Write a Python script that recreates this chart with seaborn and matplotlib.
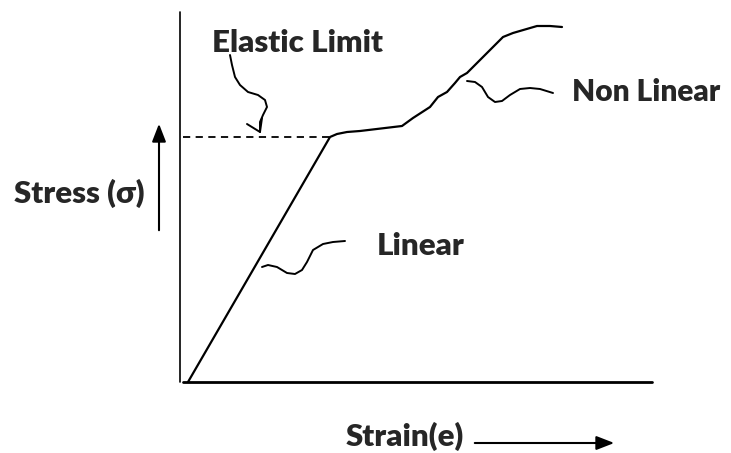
import matplotlib
matplotlib.use("Agg")
import matplotlib.pyplot as plt
import seaborn as sns
import pandas as pd

sns.set_theme(style="white")
plt.rcParams['font.family'] = ['Lato', 'DejaVu Sans']

# Stress-strain curve (schematic units: strain to the right, stress upward)
strain = [8, 150, 157, 167, 180, 222, 233, 250, 258, 267, 275, 280, 287, 307, 323, 333, 357, 370, 382]
stress = [0, 245, 248, 250, 251, 256, 264, 275, 285, 290, 299, 305, 309, 329, 345, 349, 356, 356, 355]

elastic_limit = 245
elastic_end = 150

# hand-drawn pointer squiggles
el_sq_x = [50, 52, 55, 60, 68, 78, 85, 87, 83, 80, 80]
el_sq_y = [327, 317, 305, 297, 290, 287, 282, 275, 267, 260, 250]
el_head_x = [67, 80, 82]
el_head_y = [258, 250, 264]

nl_sq_x = [287, 295, 302, 308, 315, 322, 330, 340, 350, 360, 373]
nl_sq_y = [301, 300, 295, 285, 280, 281, 287, 293, 294, 293, 289]

lin_sq_x = [82, 88, 97, 107, 115, 122, 127, 133, 143, 153, 165]
lin_sq_y = [115, 117, 115, 109, 108, 112, 120, 132, 138, 140, 141]

df = pd.DataFrame({"strain": strain, "stress": stress})

fig = plt.figure(figsize=(7.31, 4.53), dpi=100)
ax = fig.add_axes([0, 0, 1, 1])
ax.set_xlim(-180, 551)
ax.set_ylim(-71, 382)
ax.axis("off")

sns.lineplot(data=df, x="strain", y="stress", sort=False, color="black", lw=1.6, ax=ax)

# axes lines
ax.plot([0, 0], [0, 370], color="black", lw=1.2)
ax.plot([3, 472], [0, 0], color="black", lw=2.0)

# dashed elastic limit
ax.plot([3, elastic_end], [elastic_limit, elastic_limit], color="black", lw=1.3, ls=(0, (4, 3)))

# squiggles
kw = dict(color="black", lw=1.4, solid_capstyle="round", solid_joinstyle="round")
ax.plot(el_sq_x, el_sq_y, **kw)
ax.plot(el_head_x, el_head_y, **kw)
ax.plot(nl_sq_x, nl_sq_y, **kw)
ax.plot(lin_sq_x, lin_sq_y, **kw)

fs = 22.5
fw = "heavy"
ax.text(117, 339, "Elastic Limit", fontsize=fs, fontweight=fw, ha="center", va="center")
ax.text(392, 290, "Non Linear", fontsize=21.5, fontweight=fw, ha="left", va="center")
ax.text(241, 136, "Linear", fontsize=fs, fontweight=fw, ha="center", va="center")
ax.text(-101, 189, "Stress (σ)", fontsize=fs, fontweight=fw, ha="center", va="center")
ax.text(225, -54, "Strain(e)", fontsize=fs, fontweight=fw, ha="center", va="center")

# direction arrows
ax.annotate("", xy=(437, -61), xytext=(292, -61),
            arrowprops=dict(arrowstyle="-|>,head_length=0.9,head_width=0.35", color="black", lw=1.5))
ax.annotate("", xy=(-21, 261), xytext=(-21, 149),
            arrowprops=dict(arrowstyle="-|>,head_length=0.9,head_width=0.35", color="black", lw=1.5))

fig.savefig("out.png", dpi=100)
